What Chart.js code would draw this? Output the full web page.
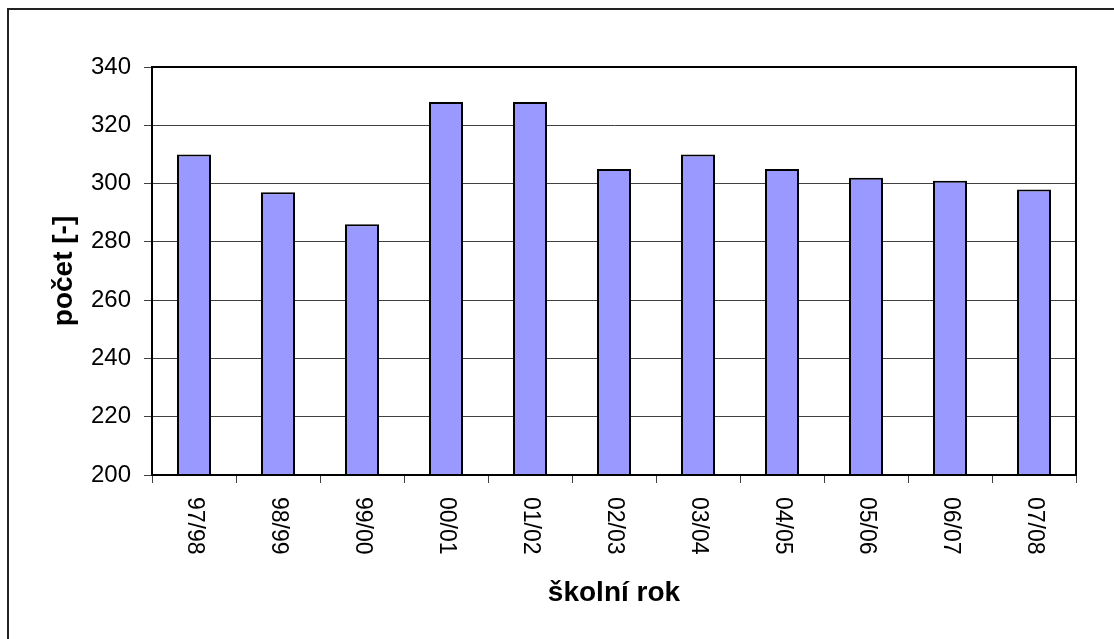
<!DOCTYPE html>
<html>
<head>
<meta charset="utf-8">
<script src="https://cdn.jsdelivr.net/npm/chart.js@4"></script>
<style>
  body { margin: 0; background: #fff; }
  canvas { display: block; }
</style>
</head>
<body>
<canvas id="BarChart" width="1114" height="639"></canvas>
<script>
const years = ['97/98', '98/99', '99/00', '00/01', '01/02', '02/03', '03/04', '04/05', '05/06', '06/07', '07/08'];
const counts = [310, 297, 286, 328, 328, 305, 310, 305, 302, 301, 298];
const yTicks = [200, 220, 240, 260, 280, 300, 320, 340];
const xTitle = 'školní rok';
const yTitle = 'počet [-]';

const textPlugin = {
    id: 'textPlugin',
    afterDraw(chart) {
        const ctx = chart.ctx;
        const area = chart.chartArea;
        const xs = chart.scales.x;
        ctx.save();
        // outer frame of the chart object
        ctx.strokeStyle = '#222';
        ctx.lineWidth = 2;
        ctx.beginPath();
        ctx.moveTo(8, 639);
        ctx.lineTo(8, 9);
        ctx.lineTo(1114, 9);
        ctx.stroke();
        // plot area frame
        ctx.strokeStyle = '#000';
        ctx.lineWidth = 2;
        ctx.strokeRect(area.left, area.top, area.right - area.left, area.bottom - area.top);
        // category labels, turned clockwise
        ctx.fillStyle = '#000';
        ctx.font = '23px "Liberation Sans", Arial, sans-serif';
        ctx.textAlign = 'left';
        ctx.textBaseline = 'middle';
        years.forEach((y, i) => {
            ctx.save();
            ctx.translate(xs.getPixelForValue(i), area.bottom + 22);
            ctx.rotate(Math.PI / 2);
            ctx.fillText(y, 0, 0);
            ctx.restore();
        });
        // axis titles
        ctx.font = 'bold 28px "Liberation Sans", Arial, sans-serif';
        ctx.textAlign = 'center';
        ctx.textBaseline = 'alphabetic';
        ctx.fillText(xTitle, (area.left + area.right) / 2, 601);
        ctx.save();
        ctx.translate(72, (area.top + area.bottom) / 2);
        ctx.rotate(-Math.PI / 2);
        ctx.fillText(yTitle, 0, 0);
        ctx.restore();
        ctx.restore();
    }
};

const ctx = document.getElementById('BarChart');
const BarChart = new Chart(ctx, {
    type: 'bar',
    data: {
        labels: years,
        datasets: [{
            label: yTitle,
            data: counts,
            backgroundColor: '#9999ff',
            borderColor: '#000',
            borderWidth: 2,
            borderSkipped: 'bottom',
            barPercentage: 0.405,
            categoryPercentage: 1
        }]
    },
    options: {
        responsive: false,
        animation: false,
        layout: {
            padding: { top: 67, right: 38, left: 0, bottom: 0 }
        },
        plugins: {
            legend: { display: false },
            tooltip: { enabled: false }
        },
        scales: {
            x: {
                afterFit(scale) { scale.height = 164; },
                grid: {
                    offset: true,
                    drawOnChartArea: false,
                    drawTicks: true,
                    tickLength: 8,
                    color: '#404040'
                },
                border: { color: '#000', width: 2 },
                ticks: { display: false }
            },
            y: {
                min: 200,
                max: 340,
                afterFit(scale) { scale.width = 152; },
                afterBuildTicks(scale) {
                    scale.ticks = yTicks.map(v => ({ value: v }));
                },
                grid: {
                    color: '#404040',
                    lineWidth: 1,
                    tickLength: 8
                },
                border: { color: '#000', width: 2 },
                ticks: {
                    padding: 13,
                    color: '#000',
                    font: { family: '"Liberation Sans", Arial, sans-serif', size: 24 }
                }
            }
        }
    },
    plugins: [textPlugin]
});
</script>
</body>
</html>
